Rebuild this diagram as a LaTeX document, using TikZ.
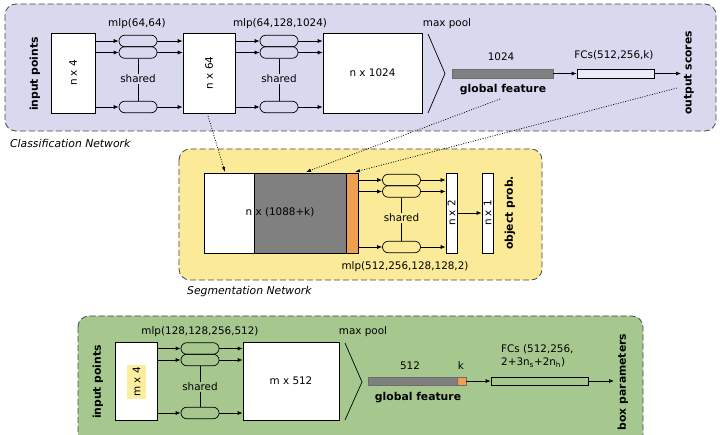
\documentclass[tikz,border=0pt]{standalone}
\usepackage{fontspec}
\setmainfont{DejaVu Sans}
\usetikzlibrary{arrows.meta}
\definecolor{clsbg}{RGB}{216,216,239}
\definecolor{segbg}{RGB}{251,234,152}
\definecolor{boxbg}{RGB}{166,200,143}
\definecolor{fcfill}{RGB}{234,234,248}
\definecolor{orng}{RGB}{238,160,80}
\definecolor{featgray}{RGB}{128,128,128}
\definecolor{hlyellow}{RGB}{252,238,160}
\definecolor{edgegray}{RGB}{70,70,70}
\tikzset{
  panel/.style={draw=edgegray, dash pattern=on 6pt off 3pt, rounded corners=11pt, line width=0.8pt},
  blk/.style={draw, fill=white, line width=0.7pt, inner sep=0pt},
  mlpnode/.style={draw, rounded corners=5.7pt, minimum width=38pt, minimum height=11.5pt, inner sep=0pt, line width=0.7pt},
  arr/.style={-{Latex[length=5pt,width=4pt]}, line width=0.7pt},
  dotarr/.style={-{Latex[length=5pt,width=3.5pt]}, dash pattern=on 1pt off 1.5pt, line width=0.7pt},
  lbl/.style={font=\fontsize{10.4}{12}\selectfont, inner sep=1pt},
  vlbl/.style={font=\fontsize{10.4}{12}\selectfont, rotate=90, inner sep=1pt},
  bvlbl/.style={font=\fontsize{10.8}{12}\selectfont\bfseries, rotate=90, inner sep=1pt},
  blbl/.style={font=\fontsize{10.8}{12}\selectfont\bfseries, inner sep=1pt},
  ilbl/.style={font=\fontsize{10.8}{12}\selectfont\itshape, inner sep=0pt, anchor=west},
  bar/.style={minimum height=9pt, inner sep=0pt, line width=0.5pt},
}
\begin{document}
\begin{tikzpicture}[x=1pt,y=-1pt]
\clip (0,0) rectangle (720,435);
\fill[white] (0,0) rectangle (720,435);

% ================= Classification network =================
\draw[panel, fill=clsbg] (5,4) rectangle (716,131);
\node[ilbl] (clsname) at (10,143) {Classification Network};
\node[bvlbl] (inpts) at (35,74) {input points};

\node[blk, minimum width=44pt, minimum height=80pt] (in1) at (73,73) {};
\node[vlbl] (in1t) at (in1.center) {n x 4};

\node[mlpnode] (a1) at (138,41) {};
\node[mlpnode] (a2) at (138,52.5) {};
\node[mlpnode] (a3) at (138,107) {};
\node[lbl] (ash) at (138,79) {shared};
\draw[line width=0.7pt] (a2.south) -- (ash.north);
\draw[line width=0.7pt] (ash.south) -- (a3.north);
\node[lbl] (alab) at (137,24) {mlp(64,64)};

\node[blk, minimum width=52pt, minimum height=80pt] (b64) at (209,73) {};
\node[vlbl] (b64t) at (b64.center) {n x 64};

\foreach \o in {a1,a2,a3}{
  \draw[arr] (in1.east |- \o.west) -- (\o.west);
  \draw[arr] (\o.east) -- (b64.west |- \o.east);
}

\node[mlpnode] (c1) at (279,41) {};
\node[mlpnode] (c2) at (279,52.5) {};
\node[mlpnode] (c3) at (279,107) {};
\node[lbl] (csh) at (279,79) {shared};
\draw[line width=0.7pt] (c2.south) -- (csh.north);
\draw[line width=0.7pt] (csh.south) -- (c3.north);
\node[lbl] (clab) at (280,24) {mlp(64,128,1024)};

\node[blk, minimum width=99pt, minimum height=80pt] (b1024) at (372.5,73) {};
\node[lbl] (b1024t) at (b1024.center) {n x 1024};

\foreach \o in {c1,c2,c3}{
  \draw[arr] (b64.east |- \o.west) -- (\o.west);
  \draw[arr] (\o.east) -- (b1024.west |- \o.east);
}

\coordinate (mp1a) at (428,34);
\coordinate (mp1b) at (445,73.5);
\coordinate (mp1c) at (428,113);
\draw[line width=0.7pt] (mp1a) -- (mp1b) -- (mp1c);
\node[lbl] (mp1l) at (447,24) {max pool};

\node[bar, fill=featgray, draw=featgray!85!black, minimum width=101pt] (gf1) at (502.5,73.5) {};
\node[lbl] (gf1n) at (501,57) {1024};
\node[blbl] (gf1l) at (503,90) {global feature};

\node[bar, fill=fcfill, draw, minimum width=77pt, line width=0.7pt] (fc1) at (615.5,73.5) {};
\node[lbl] (fc1l) at (614,55) {FCs(512,256,k)};
\coordinate (out1) at (681,73.5);
\draw[arr] (gf1.east) -- (fc1.west);
\draw[arr] (fc1.east) -- (out1);
\node[bvlbl] (outs) at (689,73) {output scores};

% ================= Segmentation network =================
\draw[panel, fill=segbg] (179,149) rectangle (542,280);
\node[ilbl] (segname) at (187,292) {Segmentation Network};

\node[blk, minimum width=50pt, minimum height=80pt] (sw) at (229,213) {};
\node[blk, fill=featgray, minimum width=92pt, minimum height=80pt] (sg) at (300,213) {};
\node[blk, fill=orng, minimum width=12pt, minimum height=80pt] (so) at (352,213) {};
\node[lbl] (sgt) at (280,212) {n x (1088+k)};

\node[mlpnode] (s1) at (401.5,180) {};
\node[mlpnode] (s2) at (401.5,191.5) {};
\node[mlpnode] (s3) at (401.5,247) {};
\node[lbl] (ssh) at (401.5,218) {shared};
\draw[line width=0.7pt] (s2.south) -- (ssh.north);
\draw[line width=0.7pt] (ssh.south) -- (s3.north);

\node[blk, minimum width=11pt, minimum height=80pt] (n2) at (451.5,213) {};
\node[vlbl] (n2t) at (n2.center) {n x 2};
\node[blk, minimum width=11pt, minimum height=80pt] (n1) at (487.5,213) {};
\node[vlbl] (n1t) at (n1.center) {n x 1};
\foreach \o in {s1,s2,s3}{
  \draw[arr] (so.east |- \o.west) -- (\o.west);
  \draw[arr] (\o.east) -- (n2.west |- \o.east);
}
\draw[arr] (n2.east) -- (n1.west);
\node[bvlbl] (objp) at (510,213) {object prob.};
\node[lbl] (slab) at (405,267) {mlp(512,256,128,128,2)};

% dotted connectors
\coordinate (d1s) at (208,116);
\coordinate (d1e) at (225,172);
\coordinate (d2s) at (500,99);
\coordinate (d2e) at (306,172);
\coordinate (d3s) at (677,88);
\coordinate (d3e) at (355,172);
\draw[dotarr] (d1s) -- (d1e);
\draw[dotarr] (d2s) -- (d2e);
\draw[dotarr] (d3s) -- (d3e);

% ================= Box estimation network =================
\draw[panel, fill=boxbg] (78,316) rectangle (643,452);
\node[bvlbl] (inpts2) at (98,382) {input points};

\node[blk, minimum width=42pt, minimum height=78pt] (bin) at (136,381) {};
\node[vlbl, fill=hlyellow, minimum height=19pt, inner sep=2pt] (bint) at (136.5,382) {m x 4};

\node[mlpnode] (e1) at (200,348.5) {};
\node[mlpnode] (e2) at (200,360) {};
\node[mlpnode] (e3) at (200,413) {};
\node[lbl] (esh) at (200,387) {shared};
\draw[line width=0.7pt] (e2.south) -- (esh.north);
\draw[line width=0.7pt] (esh.south) -- (e3.north);
\node[lbl] (elab) at (200,332) {mlp(128,128,256,512)};

\node[blk, minimum width=96pt, minimum height=78pt] (m512) at (291,381) {};
\node[lbl] (m512t) at (m512.center) {m x 512};
\foreach \o in {e1,e2,e3}{
  \draw[arr] (bin.east |- \o.west) -- (\o.west);
  \draw[arr] (\o.east) -- (m512.west |- \o.east);
}

\coordinate (mp2a) at (345,343);
\coordinate (mp2b) at (362,382);
\coordinate (mp2c) at (345,420);
\draw[line width=0.7pt] (mp2a) -- (mp2b) -- (mp2c);
\node[lbl] (mp2l) at (363,332) {max pool};

\node[bar, fill=featgray, draw=featgray!85!black, minimum width=89pt, minimum height=8pt] (gf2) at (412.5,381) {};
\node[bar, fill=orng, draw=featgray!85!black, minimum width=9pt, minimum height=8pt] (gf2k) at (461.5,381) {};
\node[lbl] (gf2n) at (410,366) {512};
\node[lbl] (gf2kl) at (461,366) {k};
\node[blbl] (gf2l) at (418,398) {global feature};

\node[bar, draw, minimum width=97pt, minimum height=8pt, line width=0.7pt] (fc2) at (539.5,381) {};
\node[lbl, align=left, anchor=west, font=\fontsize{10.4}{13}\selectfont] (fc2l) at (500,356.5) {FCs (512,256,\\2+3n\textsubscript{s}+2n\textsubscript{h})};
\coordinate (out2) at (614,381);
\draw[arr] (gf2k.east) -- (fc2.west);
\draw[arr] (fc2.east) -- (out2);
\node[bvlbl] (boxp) at (623,382) {box parameters};
\end{tikzpicture}
\end{document}
